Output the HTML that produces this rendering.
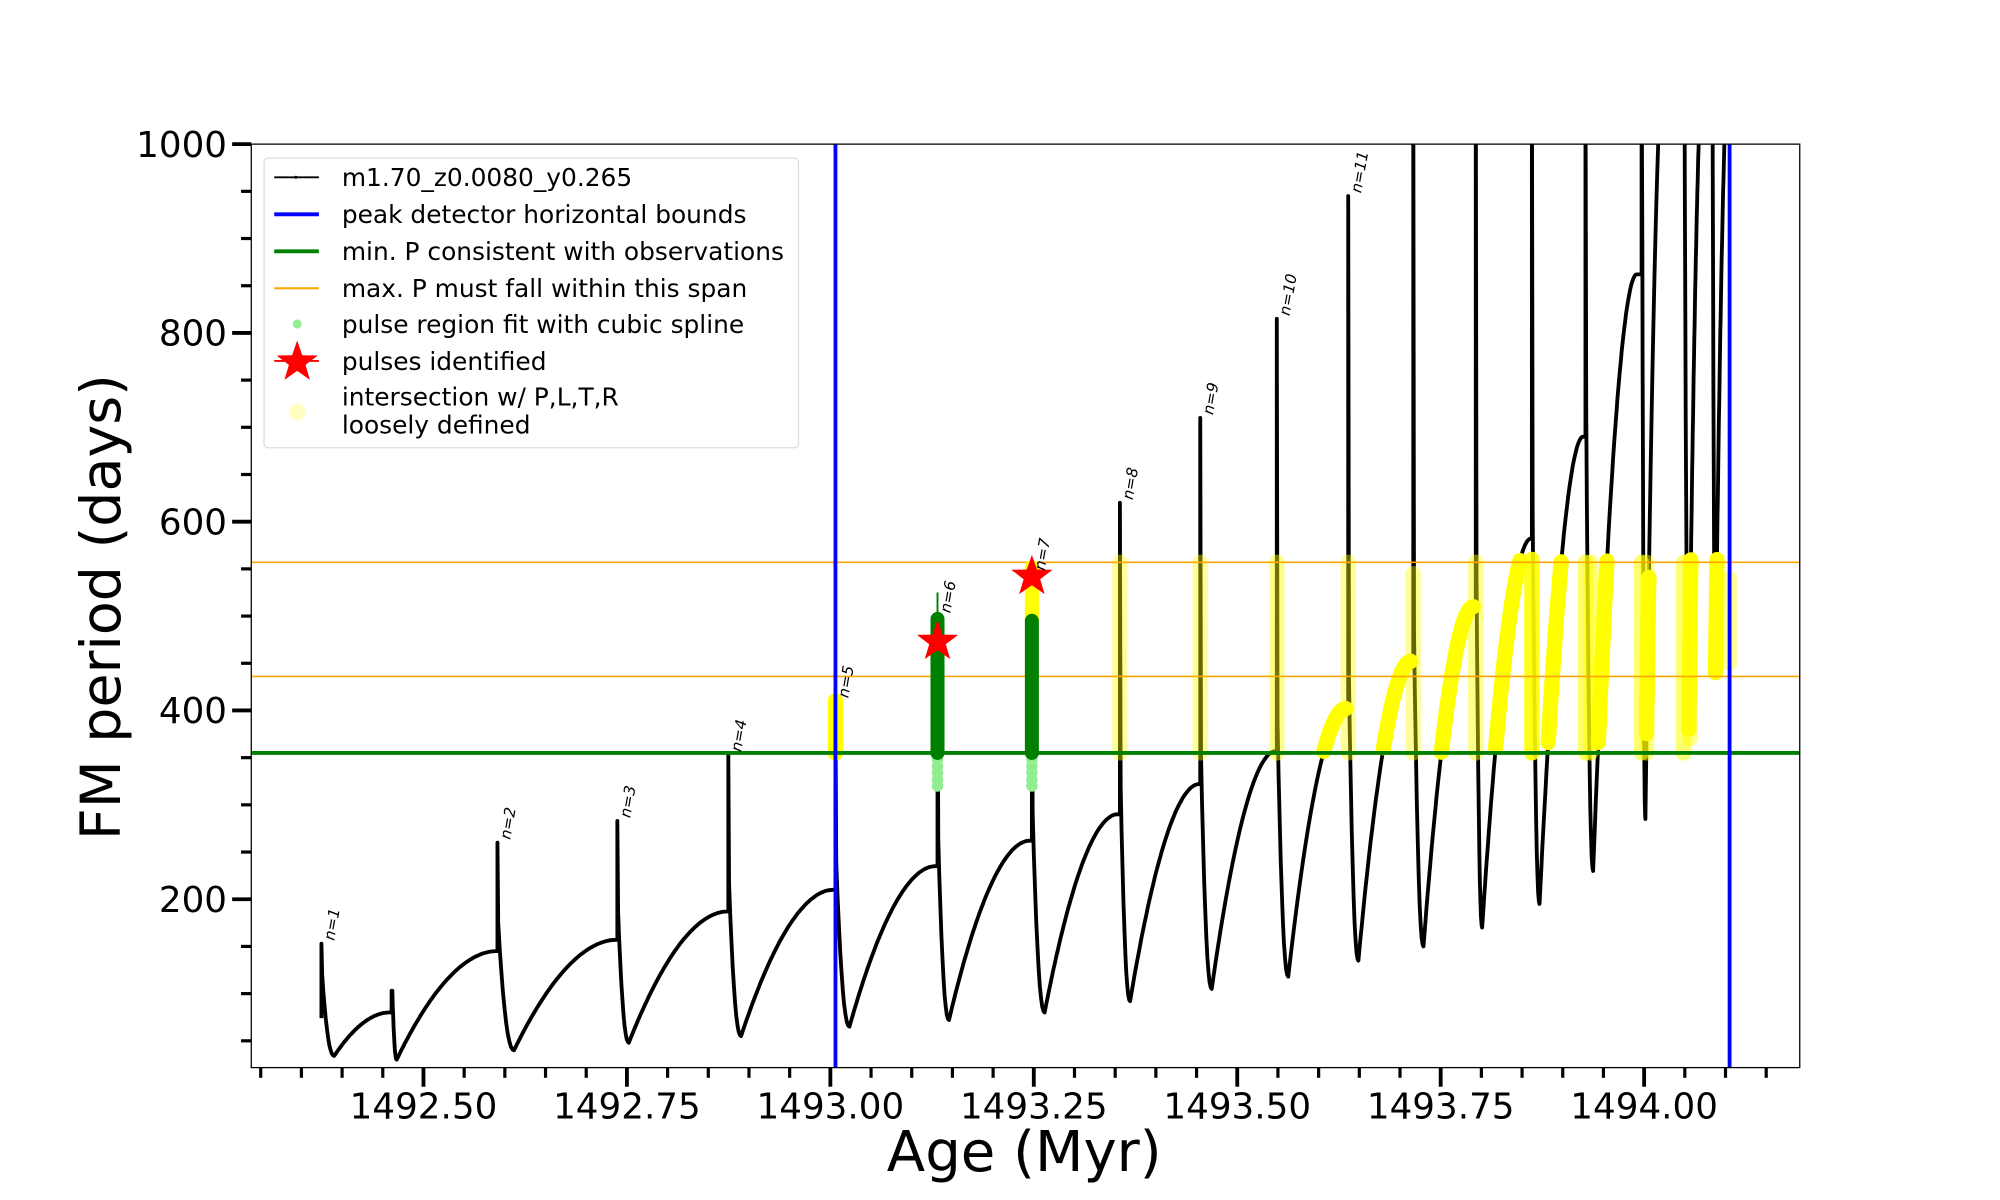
<!DOCTYPE html>
<html><head><meta charset="utf-8"><style>
html,body{margin:0;padding:0;background:#fff;}
svg{display:block;}
text{font-family:"DejaVu Sans","Liberation Sans",sans-serif;}
</style></head><body>
<svg id="s" width="2000" height="1200" viewBox="0 0 1568 940.8" xmlns="http://www.w3.org/2000/svg">
<defs><clipPath id="c"><rect x="197" y="113" width="1214" height="724"/></clipPath></defs>
<rect x="0" y="0" width="1568" height="941" fill="#fff"/>
<g id="plot" clip-path="url(#c)"></g>
<rect x="197" y="113" width="1214" height="724" fill="none" stroke="#000" stroke-width="1"/>
<g id="ax"></g>
<text x="803" y="918" font-size="44" text-anchor="middle">Age (Myr)</text>
<text transform="translate(94,476) rotate(-90)" font-size="43.5" text-anchor="middle">FM period (days)</text>
<g id="leg">
<rect x="207" y="124" width="419" height="227" rx="3" fill="#fff" fill-opacity="0.8" stroke="#ddd" stroke-width="1"/>
<line x1="215" y1="139" x2="250" y2="139" stroke="#000" stroke-width="1.5"/><circle cx="232" cy="139" r="1.2"/>
<text x="268" y="146" font-size="19.5">m1.70_z0.0080_y0.265</text>
<line x1="215" y1="168" x2="250" y2="168" stroke="#00f" stroke-width="3"/>
<text x="268" y="175" font-size="19.5">peak detector horizontal bounds</text>
<line x1="215" y1="197" x2="250" y2="197" stroke="#008000" stroke-width="3"/>
<text x="268" y="204" font-size="19.5">min. P consistent with observations</text>
<line x1="215" y1="226" x2="250" y2="226" stroke="orange" stroke-width="1.5"/>
<text x="268" y="233" font-size="19.5">max. P must fall within this span</text>
<circle cx="233" cy="254" r="3.5" fill="#90ee90"/>
<text x="268" y="261" font-size="19.5">pulse region fit with cubic spline</text>
<line x1="215" y1="283" x2="250" y2="283" stroke="red" stroke-width="1.5"/>
<polygon id="lstar" fill="red"/>
<text x="268" y="290" font-size="19.5">pulses identified</text>
<circle cx="233" cy="323" r="6.5" fill="#ffff99" fill-opacity="0.6"/>
<text x="268" y="318" font-size="19.5">intersection w/ P,L,T,R</text>
<text x="268" y="340" font-size="19.5">loosely defined</text>
</g>
</svg>
<script>
var NS="http://www.w3.org/2000/svg";
function el(t,a,p){var e=document.createElementNS(NS,t);for(var k in a)e.setAttribute(k,a[k]);(p||document.getElementById('plot')).appendChild(e);return e;}
function yv(v){return 853-0.74*v;}
function star(cx,cy,R){var r=R*0.4,p=[];for(var i=0;i<10;i++){var a=-Math.PI/2+i*Math.PI/5,rr=i%2?r:R;p.push((cx+rr*Math.cos(a)).toFixed(1)+","+(cy+rr*Math.sin(a)).toFixed(1));}return p.join(" ");}
document.getElementById('lstar').setAttribute('points',star(233,284,17));
var C=[[252,153,262,34,305,80],[307,103,311,30,389,145],[390,260,403,40,483,157],[484,283,493,48,570,187],[571,353,581,55,653,210],[655,410,666,65,733,235],[735,500,744,72,807,262],[809,545,819,80,876,290],[878,620,886,92,940,322],[941,710,950,105,1000,357],[1001,815,1010,118,1055,402],[1057,945,1065,135,1106,452],[1108,1100,1116,150,1155,510],[1157,1100,1162,170,1200,582],[1201,1100,1207,195,1241,690],[1243,1100,1249,230,1283,862],[1287,1100,1290,285,1305,1100],[1320,1100,1324,380,1336,1100],[1342,1100,1345,440,1356,1100]];
var d="",prev=90,yel=[],seg=[];
function pushY(x,v){if(v>=355&&v<=560){seg.push([x,yv(v)]);}else if(seg.length){yel.push(seg);seg=[];}}
C.forEach(function(c,i){
 var tp=c[0],pk=c[1],tm=c[2],vm=c[3],te=c[4],ve=c[5];
 var start=Math.min(pk,prev+30);
 d+=(i==0?"M":"L")+tp+","+yv(i==0?vm+40:prev).toFixed(1)+" L"+tp+","+yv(pk).toFixed(1)+" L"+(tp+0.6)+","+yv(start).toFixed(1);
 for(var k=0;k<=10;k++){var s=k/10;var x=tp+0.6+(tm-tp-0.6)*s;var v=vm+(start-vm)*Math.pow(1-s,2.2);d+=" L"+x.toFixed(1)+","+yv(v).toFixed(1);}
 if(seg.length){yel.push(seg);seg=[];}
 for(var k=0;k<=50;k++){var s=k/50;var x=tm+(te-tm)*s;var v=vm+(ve-vm)*(1-Math.pow(1-s,1.9));d+=" L"+x.toFixed(1)+","+yv(v).toFixed(1);if(tm>990)pushY(x,v);}
 if(seg.length){yel.push(seg);seg=[];}
 prev=ve;
});
el('path',{d:d,fill:'none',stroke:'#000','stroke-width':3,'stroke-linejoin':'round'});
[[655,355,410,1],[878,355,557,.4],[941,355,557,.4],[1001,355,557,.45],[1057,355,557,.4],[1108,355,545,.4],[1157,355,557,.45],[1201,355,560,.9],[1243,355,557,.55],[1247,355,557,.55],[1287,355,557,.55],[1291,355,557,.45],[1320,355,557,.55],[1325,370,557,.45],[1356,450,540,.4]].forEach(function(b){
 el('line',{x1:b[0],x2:b[0],y1:yv(b[1]),y2:yv(b[2]),stroke:'#ffff00','stroke-width':12,'stroke-linecap':'round','stroke-opacity':b[3]});});
yel.forEach(function(sg){el('polyline',{points:sg.map(function(p){return p[0].toFixed(1)+","+p[1].toFixed(1)}).join(" "),fill:'none',stroke:'#ffff00','stroke-width':12,'stroke-linecap':'round','stroke-linejoin':'round'});});
el('line',{x1:197,x2:1411,y1:yv(557),y2:yv(557),stroke:'orange','stroke-width':1.3});
el('line',{x1:197,x2:1411,y1:yv(436),y2:yv(436),stroke:'orange','stroke-width':1.3});
[[735,497,525],[809,495,0]].forEach(function(g){
 if(g[0]==809)el('line',{x1:809,x2:809,y1:yv(495),y2:yv(552),stroke:'#ffff00','stroke-width':11,'stroke-linecap':'round'});
 for(var v=320;v<355;v+=7)el('circle',{cx:g[0],cy:yv(v),r:4.5,fill:'#90ee90'});
 el('line',{x1:g[0],x2:g[0],y1:yv(355),y2:yv(g[1]),stroke:'#008000','stroke-width':11,'stroke-linecap':'round'});
 if(g[2])el('line',{x1:g[0],x2:g[0],y1:yv(g[1]),y2:yv(g[2]),stroke:'#008000','stroke-width':1.5});
});
el('line',{x1:197,x2:1411,y1:yv(355),y2:yv(355),stroke:'#008000','stroke-width':3});
el('polygon',{points:star(735,503,17),fill:'red'});
el('polygon',{points:star(809,452,17),fill:'red'});
el('line',{x1:655,x2:655,y1:113,y2:837,stroke:'#00f','stroke-width':3});
el('line',{x1:1356,x2:1356,y1:113,y2:837,stroke:'#00f','stroke-width':3});
[[252,153,1],[390,260,2],[484,283,3],[571,353,4],[655,410,5],[735,500,6],[809,545,7],[878,620,8],[941,710,9],[1001,815,10],[1057,945,11]].forEach(function(n){
 var t=el('text',{transform:'translate('+(n[0]+10)+','+(yv(n[1])-2)+') rotate(-80)','font-size':12,'font-style':'italic'});t.textContent='n='+n[2];});
var ax=document.getElementById('ax');
function xa(a){return 332+(a-1492.5)/0.25*159.5;}
for(var i=0;i<=50;i++){var a=1492.2+i*0.05;var x=xa(a);if(x<199||x>1410)continue;var q=a*4;var maj=Math.abs(q-Math.round(q))<1e-6;
 el('line',{x1:x,x2:x,y1:837,y2:maj?852:845,stroke:'#000','stroke-width':maj?3:2.5},ax);
 if(maj){var t=el('text',{x:x,y:877,'font-size':28,'text-anchor':'middle'},ax);t.textContent=a.toFixed(2);}}
for(var v=50;v<=1000;v+=50){var y=yv(v);if(y<112)continue;var maj=v%200==0;
 el('line',{x1:maj?182:189,x2:197,y1:y,y2:y,stroke:'#000','stroke-width':maj?3:2.5},ax);
 if(maj){var t=el('text',{x:178,y:y+10,'font-size':28,'text-anchor':'end'},ax);t.textContent=v;}}
</script>
</body></html>
